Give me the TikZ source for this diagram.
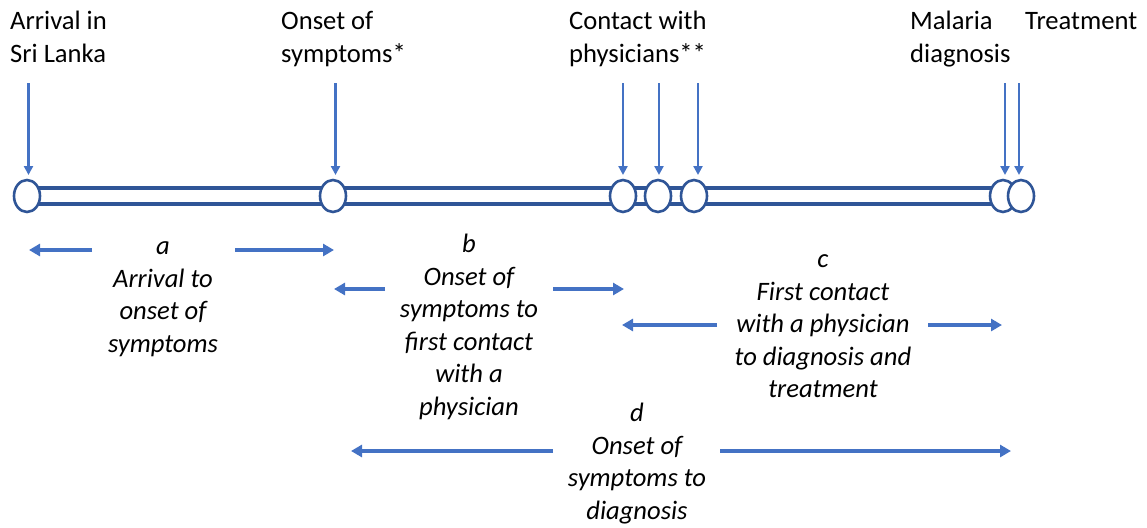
\documentclass[tikz,border=0pt]{standalone}
\usepackage{fontspec}
\setmainfont{Carlito}
\usetikzlibrary{arrows.meta,shapes.geometric,calc}
\definecolor{bardark}{RGB}{47,85,151}
\definecolor{arrblue}{RGB}{68,114,196}
\begin{document}
\begin{tikzpicture}[x=1pt,y=-1pt,
  dot/.style={ellipse,draw=bardark,line width=2.6pt,fill=white,minimum width=26pt,minimum height=32pt,inner sep=0pt},
  bar/.style={draw=bardark,line width=3.2pt},
  down/.style={draw=arrblue,line width=2.5pt,-{Triangle[length=9pt,width=9pt]}},
  span/.style={draw=arrblue,line width=3.5pt,-{Triangle[length=11pt,width=12pt]}},
  toplab/.style={font=\fontsize{26.6}{32.5}\selectfont,align=left,anchor=base west,inner sep=0pt},
  lowlab/.style={font=\fontsize{26.6}{32.5}\selectfont\itshape,align=center,anchor=base,inner sep=0pt}]
\useasboundingbox (0,0) rectangle (1147,527);
% bar
\draw[bar] (27,188) -- (1021,188);
\draw[bar] (27,204) -- (1021,204);
% points
\node[dot] (p1) at (27,196) {};
\node[dot] (p2) at (333,196) {};
\node[dot] (p3) at (623,196) {};
\node[dot] (p4) at (658,196) {};
\node[dot] (p5) at (694,196) {};
\node[dot] (p6) at (1003,196) {};
\node[dot] (p7) at (1021,196) {};
% top labels (anchor = baseline of last line)
\node[toplab] (l1) at (10,62.5) {Arrival in\\Sri Lanka};
\node[toplab] (l2) at (281,62.5) {Onset of\\symptoms*};
\node[toplab] (l3) at (569,62.5) {Contact with\\physicians**};
\node[toplab] (l4) at (910,62.5) {Malaria\\diagnosis};
\node[toplab] (l5) at (1025,30) {Treatment};
% down arrows
\coordinate (t1) at (28.5,83);
\coordinate (t2) at (335.5,83);
\coordinate (t3) at (623,83);
\coordinate (t4) at (659,83);
\coordinate (t5) at (698,83);
\coordinate (t6) at (1005,83);
\coordinate (t7) at (1019,83);
\draw[down] (t1) -- (28.5,175);
\draw[down] (t2) -- (335.5,175);
\draw[down] (t3) -- (623,175);
\draw[down] (t4) -- (659,175);
\draw[down] (t5) -- (698,175);
\draw[down] (t6) -- (1005,175);
\draw[down] (t7) -- (1019,175);
% lower labels (anchor = baseline of last line)
\node[lowlab] (la) at (163,352) {a\\Arrival to\\onset of\\symptoms};
\node[lowlab] (lb) at (469,415) {b\\Onset of\\symptoms to\\first contact\\with a\\physician};
\node[lowlab] (lc) at (823,397.5) {c\\First contact\\with a physician\\to diagnosis and\\treatment};
\node[lowlab] (ld) at (637,519) {d\\Onset of\\symptoms to\\diagnosis};
% span arrows
\coordinate (a1) at (92,250); \coordinate (a2) at (29,250);
\coordinate (a3) at (235,250); \coordinate (a4) at (334,250);
\draw[span] (a1) -- (a2);
\draw[span] (a3) -- (a4);
\coordinate (b1) at (385,289); \coordinate (b2) at (334,289);
\coordinate (b3) at (553,289); \coordinate (b4) at (624,289);
\draw[span] (b1) -- (b2);
\draw[span] (b3) -- (b4);
\coordinate (c1) at (717,325); \coordinate (c2) at (622,325);
\coordinate (c3) at (928,325); \coordinate (c4) at (1002,325);
\draw[span] (c1) -- (c2);
\draw[span] (c3) -- (c4);
\coordinate (d1) at (553,451); \coordinate (d2) at (351,451);
\coordinate (d3) at (720,451); \coordinate (d4) at (1011,451);
\draw[span] (d1) -- (d2);
\draw[span] (d3) -- (d4);
\end{tikzpicture}
\end{document}
